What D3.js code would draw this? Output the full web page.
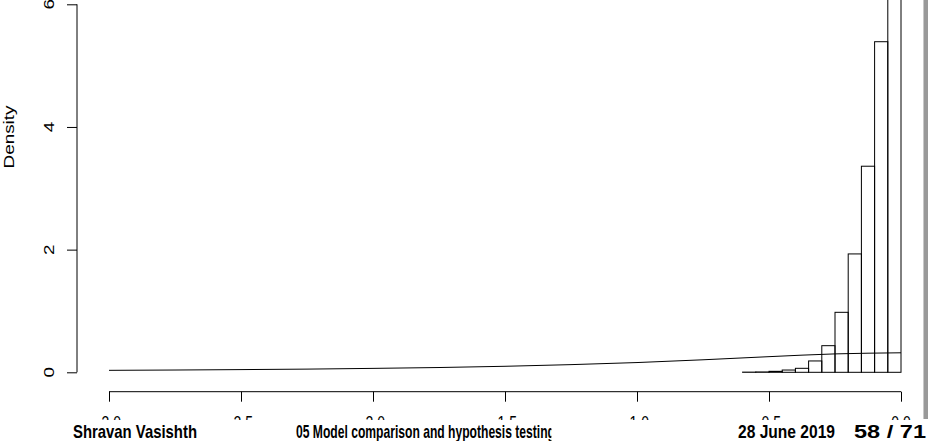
<!DOCTYPE html>
<html><head><meta charset="utf-8">
<script src="https://cdn.jsdelivr.net/npm/d3@7"></script>
<style>html,body{margin:0;padding:0;background:#fff;overflow:hidden}</style>
</head><body>
<svg id="c" width="928" height="441"></svg>
<script>
// ---- data ----
const binStarts = [-0.6,-0.55,-0.5,-0.45,-0.4,-0.35,-0.3,-0.25,-0.2,-0.15,-0.1,-0.05];
const binDensity = [0.003,0.006,0.016,0.037,0.065,0.185,0.434,0.978,1.93,3.36,5.39,7.6];
const binWidth = 0.05;
const curveX = [-3,-2.75,-2.5,-2.25,-2,-1.75,-1.5,-1.25,-1,-0.75,-0.5,-0.25,0];
const curveY = [0.032,0.037,0.044,0.052,0.064,0.078,0.098,0.125,0.159,0.204,0.255,0.300,0.318];
const xTicks = [-3.0,-2.5,-2.0,-1.5,-1.0,-0.5,0.0];
const yTicks = [0,2,4,6];
const yLabel = "Density";
const footAuthor = "Shravan Vasishth";
const footTitle = "05 Model comparison and hypothesis testing";
const footDate = "28 June 2019";
const footPage = "58 / 71";

// ---- drawing ----
const svg = d3.select("#c");
const x = d3.scaleLinear().domain([-3,0]).range([109,901]);
const y = d3.scaleLinear().domain([0,6]).range([372.3,4.3]);
const F = "'Liberation Sans', Arial, Helvetica, sans-serif";
const fs = 14, ky = 1.35;

// bars
svg.append("g").selectAll("rect").data(binStarts).join("rect")
  .attr("x", d => x(d))
  .attr("width", d => x(d + binWidth) - x(d))
  .attr("y", (d,i) => y(binDensity[i]))
  .attr("height", (d,i) => y(0) - y(binDensity[i]))
  .attr("fill", "none").attr("stroke", "#000").attr("stroke-width", 1);

// density curve
svg.append("path")
  .datum(curveX.map((v,i) => [v, curveY[i]]))
  .attr("d", d3.line().x(d => x(d[0])).y(d => y(d[1])).curve(d3.curveMonotoneX))
  .attr("fill", "none").attr("stroke", "#000").attr("stroke-width", 1);

// y axis
const ya = svg.append("g").attr("transform", "translate(77,0)")
  .call(d3.axisLeft(y).tickValues(yTicks).tickSize(10).tickFormat(""));
ya.select(".domain").attr("d", `M0,${y(6)}V${y(0)}`);
ya.selectAll("line,path").attr("stroke", "#000");
svg.append("g").selectAll("text").data(yTicks).join("text")
  .attr("transform", d => `translate(54,${y(d)}) scale(1,${ky}) rotate(-90)`)
  .attr("text-anchor", "middle").attr("font-family", F).attr("font-size", fs)
  .text(d => d);
svg.append("text")
  .attr("transform", `translate(14,137) scale(1,${ky}) rotate(-90)`)
  .attr("text-anchor", "middle").attr("font-family", F).attr("font-size", fs)
  .text(yLabel);

// x axis
const xa = svg.append("g").attr("transform", "translate(0,391.7)")
  .call(d3.axisBottom(x).tickValues(xTicks).tickSize(10).tickFormat(""));
xa.select(".domain").attr("d", `M${x(-3)},0H${x(0)}`);
xa.selectAll("line,path").attr("stroke", "#000");
svg.append("g").selectAll("text").data(xTicks).join("text")
  .attr("transform", d => `translate(${x(d)},428.5) scale(1,${ky})`)
  .attr("text-anchor", "middle").attr("font-family", F).attr("font-size", fs)
  .text(d => d3.format(".1f")(d).replace("\u2212","-"));

// right gray bar
svg.append("rect").attr("x", 923).attr("y", 0).attr("width", 1).attr("height", 419).attr("fill", "#c8c8c8");
svg.append("rect").attr("x", 924).attr("y", 0).attr("width", 4).attr("height", 419).attr("fill", "#999");

// footer
svg.append("rect").attr("x", 0).attr("y", 420).attr("width", 928).attr("height", 21).attr("fill", "#fff");
svg.append("clipPath").attr("id", "tclip").append("rect").attr("x", 290).attr("y", 415).attr("width", 261.5).attr("height", 30);
const foot = [
  {t: footAuthor, x: 73, w: 124},
  {t: footTitle, x: 296, w: 259, clip: true},
  {t: footDate, x: 738, w: 97},
  {t: footPage, x: 854, w: 72}
];
const fg = svg.append("g");
foot.forEach(f => {
  const g = fg.append("g");
  if (f.clip) g.attr("clip-path", "url(#tclip)");
  g.append("text")
    .attr("transform", `translate(${f.x},437.5) scale(1,1.15)`)
    .attr("font-family", F).attr("font-weight", "bold").attr("font-size", 15.5)
    .attr("textLength", f.w).attr("lengthAdjust", "spacingAndGlyphs")
    .text(f.t);
});
</script>
</body></html>
